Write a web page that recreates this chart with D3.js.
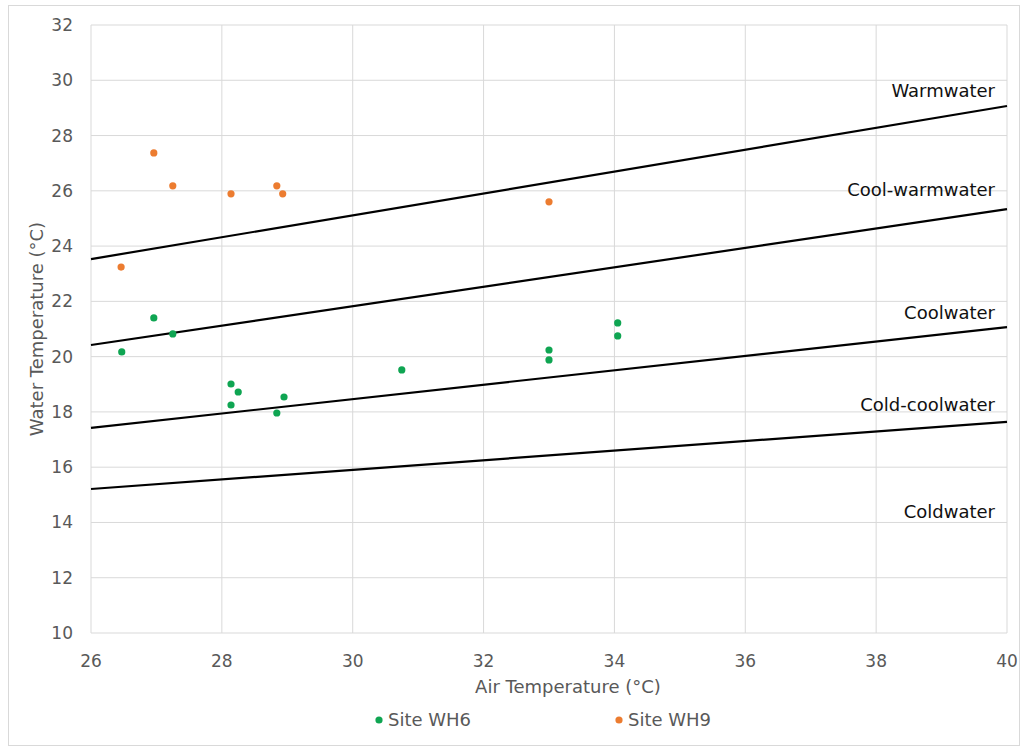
<!DOCTYPE html>
<html><head><meta charset="utf-8">
<script src="https://cdn.jsdelivr.net/npm/d3@7"></script>
<style>body{margin:0;background:#fff}svg{display:block}text{font-family:"DejaVu Sans",Verdana,sans-serif}</style>
</head><body><svg id="c" width="1026" height="750"></svg>
<script>
const xTicks=[26,28,30,32,34,36,38,40];
const yTicks=[10,12,14,16,18,20,22,24,26,28,30,32];
const wh6X=[26.47,26.96,27.25,28.14,28.25,28.14,28.84,28.95,30.75,33.0,33.0,34.05,34.05];
const wh6Y=[20.17,21.40,20.82,19.01,18.72,18.25,17.96,18.54,19.52,20.24,19.88,21.22,20.75];
const wh9X=[26.96,27.25,28.14,28.84,28.93,26.46,33.0];
const wh9Y=[27.37,26.18,25.89,26.18,25.89,23.24,25.6];
const lineNames=["Warmwater","Cool-warmwater","Coolwater","Cold-coolwater"];
const lineStart=[23.53,20.42,17.42,15.21];
const lineEnd=[29.07,25.34,21.07,17.64];
const zoneLabels=["Warmwater","Cool-warmwater","Coolwater","Cold-coolwater","Coldwater"];
const zoneLabelY=[29.4,25.81,21.36,18.03,14.16];

const svg=d3.select("#c");
const x=d3.scaleLinear().domain([26,40]).range([91,1007]);
const y=d3.scaleLinear().domain([10,32]).range([633,25]);
svg.append("rect").attr("x",8.5).attr("y",5.5).attr("width",1011).attr("height",740).attr("fill","#fff").attr("stroke","#d9d9d9");
const g=svg.append("g");
g.selectAll(".gy").data(yTicks).join("line").attr("x1",x(26)).attr("x2",x(40)).attr("y1",d=>y(d)).attr("y2",d=>y(d)).attr("stroke","#d9d9d9");
g.selectAll(".gx").data(xTicks).join("line").attr("y1",y(10)).attr("y2",y(32)).attr("x1",d=>x(d)).attr("x2",d=>x(d)).attr("stroke","#d9d9d9");
g.selectAll(".ty").data(yTicks).join("text").attr("x",73).attr("y",d=>y(d)+6).attr("text-anchor","end").attr("font-size",17).attr("fill","#595959").text(d=>d);
g.selectAll(".tx").data(xTicks).join("text").attr("x",d=>x(d)).attr("y",667).attr("text-anchor","middle").attr("font-size",17).attr("fill","#595959").text(d=>d);
svg.append("text").attr("x",568).attr("y",693).attr("text-anchor","middle").attr("font-size",18).attr("fill","#595959").text("Air Temperature (°C)");
svg.append("text").attr("transform","translate(43,329) rotate(-90)").attr("text-anchor","middle").attr("font-size",18).attr("fill","#595959").text("Water Temperature (°C)");
lineNames.forEach((n,i)=>{
  g.append("line").attr("x1",x(26)).attr("x2",x(40)).attr("y1",y(lineStart[i])).attr("y2",y(lineEnd[i])).attr("stroke","#000").attr("stroke-width",2.2);
});
g.selectAll(".zl").data(zoneLabels).join("text").attr("x",995).attr("y",(d,i)=>y(zoneLabelY[i])).attr("text-anchor","end").attr("font-size",18).attr("fill","#111").text(d=>d);
g.selectAll(".p6").data(wh6X).join("circle").attr("cx",d=>x(d)).attr("cy",(d,i)=>y(wh6Y[i])).attr("r",3.6).attr("fill","#0fa552");
g.selectAll(".p9").data(wh9X).join("circle").attr("cx",d=>x(d)).attr("cy",(d,i)=>y(wh9Y[i])).attr("r",3.6).attr("fill","#ec7c30");
svg.append("circle").attr("cx",379).attr("cy",720).attr("r",3.6).attr("fill","#0fa552");
svg.append("text").attr("x",388).attr("y",726).attr("font-size",18).attr("fill","#595959").text("Site WH6");
svg.append("circle").attr("cx",619).attr("cy",720).attr("r",3.6).attr("fill","#ec7c30");
svg.append("text").attr("x",628).attr("y",726).attr("font-size",18).attr("fill","#595959").text("Site WH9");
</script></body></html>
